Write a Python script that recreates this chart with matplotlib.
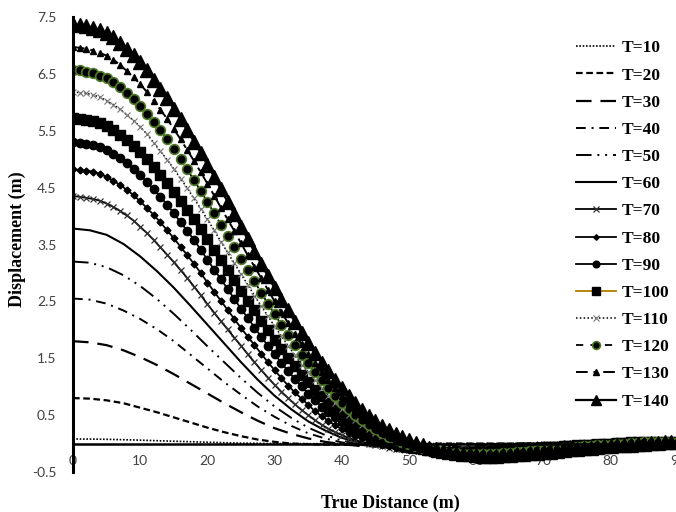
import numpy as np
import matplotlib
matplotlib.use("Agg")
import matplotlib.pyplot as plt

# distance (m): 2.5 m grid for the plain line series, 1 m grid for marker series
x_line = [i * 2.5 for i in range(37)]
x_mark = list(range(0, 91))

t10 = [0.08, 0.079, 0.075, 0.068, 0.06, 0.05, 0.041, 0.032, 0.023, 0.015,
       0.008, 0.004, 0.001, -0.001, -0.002, -0.002, -0.002, -0.001, -0.001,
       0, 0, 0, 0, 0, 0, 0, 0, 0, 0, 0, 0, 0, 0, 0, 0, 0, 0]
t20 = [0.80, 0.79, 0.76, 0.71, 0.63, 0.55, 0.46, 0.37, 0.28, 0.20,
       0.13, 0.07, 0.03, 0.00, -0.01, -0.02, -0.02, -0.02, -0.02, -0.02,
       -0.01, -0.01, 0, 0, 0, 0, 0, 0, 0, 0, 0, 0, 0, 0, 0, 0, 0]
t30 = [1.80, 1.78, 1.73, 1.64, 1.52, 1.38, 1.22, 1.05, 0.88, 0.71,
       0.55, 0.40, 0.27, 0.17, 0.09, 0.03, -0.01, -0.04, -0.05, -0.05,
       -0.05, -0.04, -0.03, -0.02, -0.01, -0.01, 0.00, 0.00, 0.01, 0.01,
       0.01, 0.01, 0.01, 0.01, 0.01, 0.01, 0.01]
t40 = [2.55, 2.53, 2.46, 2.34, 2.19, 2.01, 1.80, 1.56, 1.32, 1.08,
       0.86, 0.65, 0.47, 0.31, 0.18, 0.09, 0.02, -0.02, -0.05, -0.07,
       -0.07, -0.07, -0.06, -0.05, -0.03, -0.02, -0.01, 0.00, 0.01, 0.01,
       0.01, 0.01, 0.01, 0.01, 0.01, 0.01, 0.01]
t50 = [3.20, 3.18, 3.10, 2.96, 2.77, 2.54, 2.28, 2.00, 1.71, 1.43,
       1.15, 0.89, 0.65, 0.45, 0.28, 0.15, 0.05, -0.01, -0.05, -0.08,
       -0.09, -0.09, -0.08, -0.07, -0.05, -0.04, -0.02, -0.01, 0.00, 0.01,
       0.01, 0.01, 0.01, 0.01, 0.01, 0.01, 0.01]
t60 = [3.78, 3.75, 3.67, 3.51, 3.29, 3.03, 2.74, 2.42, 2.09, 1.76,
       1.43, 1.12, 0.84, 0.60, 0.39, 0.23, 0.10, 0.02, -0.04, -0.08,
       -0.10, -0.11, -0.10, -0.08, -0.06, -0.05, -0.03, -0.02, -0.01, 0.01,
       0.02, 0.02, 0.02, 0.02, 0.02, 0.02, 0.02]

t70 = [4.35, 4.34, 4.32, 4.30, 4.27, 4.22, 4.16, 4.09, 4.01, 3.92,
       3.81, 3.70, 3.58, 3.45, 3.32, 3.19, 3.05, 2.91, 2.76, 2.61,
       2.45, 2.30, 2.15, 2.01, 1.86, 1.72, 1.57, 1.43, 1.29, 1.16,
       1.03, 0.91, 0.80, 0.69, 0.59, 0.50, 0.41, 0.33, 0.26, 0.20,
       0.15, 0.10, 0.06, 0.03, 0.00, -0.03, -0.05, -0.07, -0.09, -0.10,
       -0.11, -0.12, -0.12, -0.12, -0.12, -0.12, -0.12, -0.11, -0.10, -0.10,
       -0.09, -0.08, -0.07, -0.06, -0.05, -0.05, -0.04, -0.04, -0.03, -0.02,
       -0.01, -0.01, 0.00, 0.00, 0.00, 0.01, 0.01, 0.01, 0.02, 0.02,
       0.02, 0.02, 0.02, 0.02, 0.02, 0.02, 0.02, 0.02, 0.02, 0.02,
       0.02]
t80 = [4.82, 4.81, 4.80, 4.78, 4.74, 4.69, 4.62, 4.55, 4.46, 4.37,
       4.26, 4.14, 4.02, 3.89, 3.75, 3.61, 3.46, 3.31, 3.16, 3.00,
       2.83, 2.67, 2.51, 2.35, 2.19, 2.03, 1.88, 1.73, 1.58, 1.43,
       1.29, 1.15, 1.02, 0.90, 0.79, 0.68, 0.57, 0.48, 0.40, 0.32,
       0.25, 0.19, 0.13, 0.09, 0.05, 0.01, -0.02, -0.05, -0.07, -0.09,
       -0.11, -0.12, -0.13, -0.13, -0.13, -0.13, -0.13, -0.13, -0.13, -0.12,
       -0.11, -0.11, -0.10, -0.09, -0.08, -0.07, -0.06, -0.05, -0.04, -0.03,
       -0.03, -0.02, -0.02, -0.01, 0.00, 0.00, 0.00, 0.01, 0.01, 0.01,
       0.02, 0.02, 0.02, 0.02, 0.02, 0.02, 0.02, 0.02, 0.02, 0.02,
       0.02]
t90 = [5.30, 5.29, 5.27, 5.25, 5.22, 5.17, 5.10, 5.02, 4.93, 4.83,
       4.72, 4.60, 4.47, 4.34, 4.20, 4.05, 3.89, 3.74, 3.58, 3.41,
       3.23, 3.06, 2.89, 2.72, 2.54, 2.37, 2.21, 2.04, 1.88, 1.72,
       1.57, 1.42, 1.27, 1.14, 1.01, 0.88, 0.76, 0.65, 0.56, 0.47,
       0.38, 0.30, 0.23, 0.17, 0.12, 0.07, 0.03, 0.00, -0.03, -0.06,
       -0.08, -0.10, -0.12, -0.13, -0.14, -0.15, -0.15, -0.15, -0.15, -0.15,
       -0.14, -0.13, -0.12, -0.12, -0.11, -0.10, -0.09, -0.08, -0.07, -0.06,
       -0.05, -0.05, -0.04, -0.03, -0.02, -0.02, -0.01, -0.01, 0.00, 0.01,
       0.01, 0.02, 0.02, 0.02, 0.02, 0.02, 0.02, 0.02, 0.02, 0.02,
       0.02]
t100 = [5.72, 5.71, 5.69, 5.67, 5.63, 5.58, 5.51, 5.43, 5.34, 5.24,
        5.13, 5.01, 4.87, 4.73, 4.59, 4.43, 4.27, 4.11, 3.94, 3.77,
        3.59, 3.41, 3.23, 3.05, 2.87, 2.69, 2.51, 2.34, 2.16, 1.99,
        1.82, 1.66, 1.51, 1.36, 1.21, 1.08, 0.95, 0.83, 0.71, 0.61,
        0.51, 0.42, 0.33, 0.26, 0.19, 0.14, 0.09, 0.05, 0.01, -0.03,
        -0.06, -0.08, -0.10, -0.12, -0.14, -0.15, -0.15, -0.16, -0.16, -0.16,
        -0.15, -0.15, -0.15, -0.14, -0.13, -0.12, -0.11, -0.10, -0.09, -0.08,
        -0.07, -0.07, -0.06, -0.05, -0.04, -0.03, -0.02, -0.02, -0.01, -0.01,
        0.00, 0.01, 0.01, 0.02, 0.02, 0.02, 0.02, 0.02, 0.02, 0.02,
        0.02]
t110 = [6.18, 6.17, 6.16, 6.13, 6.09, 6.03, 5.96, 5.88, 5.78, 5.68,
        5.57, 5.44, 5.29, 5.14, 4.99, 4.83, 4.66, 4.49, 4.31, 4.13,
        3.94, 3.75, 3.55, 3.36, 3.17, 2.98, 2.79, 2.60, 2.42, 2.24,
        2.06, 1.89, 1.72, 1.55, 1.39, 1.25, 1.11, 0.97, 0.83, 0.72,
        0.61, 0.51, 0.41, 0.32, 0.25, 0.19, 0.14, 0.09, 0.04, 0.00,
        -0.04, -0.07, -0.09, -0.12, -0.14, -0.15, -0.16, -0.17, -0.17, -0.17,
        -0.17, -0.17, -0.17, -0.16, -0.15, -0.14, -0.13, -0.12, -0.11, -0.10,
        -0.09, -0.08, -0.07, -0.06, -0.06, -0.05, -0.04, -0.03, -0.02, -0.01,
        -0.01, 0.00, 0.01, 0.02, 0.02, 0.02, 0.02, 0.02, 0.02, 0.02,
        0.02]
t120 = [6.57, 6.56, 6.54, 6.51, 6.47, 6.42, 6.35, 6.27, 6.16, 6.06,
        5.94, 5.80, 5.66, 5.51, 5.35, 5.18, 5.00, 4.82, 4.63, 4.44,
        4.25, 4.05, 3.85, 3.65, 3.45, 3.25, 3.05, 2.85, 2.65, 2.46,
        2.27, 2.09, 1.91, 1.73, 1.56, 1.41, 1.26, 1.11, 0.97, 0.84,
        0.72, 0.61, 0.51, 0.41, 0.32, 0.25, 0.18, 0.12, 0.07, 0.03,
        -0.01, -0.04, -0.07, -0.10, -0.12, -0.14, -0.16, -0.17, -0.18, -0.18,
        -0.18, -0.18, -0.18, -0.18, -0.17, -0.16, -0.15, -0.14, -0.13, -0.12,
        -0.11, -0.10, -0.09, -0.08, -0.07, -0.06, -0.05, -0.04, -0.03, -0.03,
        -0.02, -0.01, 0.00, 0.01, 0.01, 0.02, 0.02, 0.03, 0.03, 0.03,
        0.03]
t130 = [6.97, 6.96, 6.94, 6.91, 6.87, 6.82, 6.75, 6.66, 6.55, 6.44,
        6.32, 6.18, 6.03, 5.87, 5.71, 5.53, 5.35, 5.16, 4.97, 4.77,
        4.57, 4.36, 4.15, 3.94, 3.74, 3.52, 3.31, 3.11, 2.91, 2.70,
        2.50, 2.31, 2.12, 1.93, 1.75, 1.58, 1.42, 1.26, 1.12, 0.97,
        0.84, 0.72, 0.61, 0.50, 0.40, 0.31, 0.24, 0.17, 0.12, 0.07,
        0.02, -0.02, -0.06, -0.09, -0.11, -0.14, -0.16, -0.17, -0.18, -0.19,
        -0.19, -0.20, -0.20, -0.20, -0.19, -0.18, -0.17, -0.16, -0.15, -0.14,
        -0.13, -0.12, -0.10, -0.09, -0.08, -0.07, -0.06, -0.05, -0.04, -0.04,
        -0.03, -0.02, -0.01, -0.01, 0.00, 0.01, 0.01, 0.02, 0.03, 0.03,
        0.03]
t140 = [7.37, 7.36, 7.34, 7.31, 7.27, 7.21, 7.14, 7.05, 6.94, 6.83,
        6.71, 6.56, 6.40, 6.24, 6.07, 5.89, 5.70, 5.51, 5.31, 5.11,
        4.90, 4.69, 4.47, 4.25, 4.03, 3.81, 3.59, 3.37, 3.16, 2.94,
        2.73, 2.53, 2.34, 2.14, 1.95, 1.76, 1.59, 1.42, 1.27, 1.11,
        0.97, 0.83, 0.71, 0.59, 0.49, 0.39, 0.31, 0.23, 0.17, 0.11,
        0.06, 0.01, -0.03, -0.07, -0.10, -0.13, -0.15, -0.17, -0.18, -0.19,
        -0.20, -0.21, -0.21, -0.21, -0.20, -0.20, -0.19, -0.18, -0.17, -0.16,
        -0.15, -0.14, -0.13, -0.12, -0.10, -0.09, -0.08, -0.07, -0.06, -0.05,
        -0.04, -0.03, -0.02, -0.02, -0.01, 0.00, 0.01, 0.01, 0.02, 0.03,
        0.03]

y_ticks = [-0.5, 0.5, 1.5, 2.5, 3.5, 4.5, 5.5, 6.5, 7.5]
x_ticks = [0, 10, 20, 30, 40, 50, 60, 70, 80, 90]

fig = plt.figure(figsize=(6.76, 5.12), dpi=100)
ax = fig.add_axes([73 / 676, 40 / 512, 605 / 676, 455 / 512])

k = 'black'
green = '#4F7A28'
ax.plot(x_line, t10, color=k, lw=1.2, ls=(0, (1, 1)), label='T=10')
ax.plot(x_line, t20, color=k, lw=1.6, ls=(0, (3, 1.6)), label='T=20')
ax.plot(x_line, t30, color=k, lw=1.6, ls=(0, (7, 4)), label='T=30')
ax.plot(x_line, t40, color=k, lw=1.4, ls=(0, (5, 3, 1, 3)), label='T=40')
ax.plot(x_line, t50, color=k, lw=1.4, ls=(0, (8, 3, 1, 3, 1, 3)), label='T=50')
ax.plot(x_line, t60, color=k, lw=1.5, ls='-', label='T=60')
ax.plot(x_mark, t70, color=k, lw=1.3, marker='x', ms=5, mew=0.9, mec='#333333', label='T=70')
ax.plot(x_mark, t80, color=k, lw=1.3, marker='D', ms=3.5, label='T=80')
ax.plot(x_mark, t90, color=k, lw=1.3, marker='o', ms=6, label='T=90')
ax.plot(x_mark, t100, color='#B8860B', lw=1.4, marker='s', ms=7, mfc=k, mec=k, label='T=100')
ax.plot(x_mark, t110, color=k, lw=1.1, ls=(0, (1, 1.5)), marker='x', ms=5, mew=0.8,
        mec='#777777', label='T=110')
ax.plot(x_mark, t120, color=k, lw=1.3, ls=(0, (4, 4)), marker='o', ms=7, mfc=k,
        mec=green, mew=1.2, label='T=120')
ax.plot(x_mark, t130, color=k, lw=1.4, ls=(0, (6, 3, 2, 3)), marker='^', ms=5, label='T=130')
ax.plot(x_mark, t140, color=k, lw=1.6, marker='^', ms=9.5, label='T=140')

ax.set_xlim(0, 90)
ax.set_ylim(-0.5, 7.5)
ax.set_xticks(x_ticks)
ax.set_yticks(y_ticks)
ax.set_yticklabels([str(v) for v in y_ticks])

for s in ['top', 'right']:
    ax.spines[s].set_visible(False)
ax.spines['left'].set_linewidth(2.2)
ax.spines['bottom'].set_position(('data', 0))
ax.spines['bottom'].set_linewidth(1.8)
ax.tick_params(axis='both', length=0, labelsize=10, colors='#404040')
ax.tick_params(axis='x', pad=8)
ax.tick_params(axis='y', pad=12)
for lab in ax.get_xticklabels() + ax.get_yticklabels():
    lab.set_fontfamily('Lato')

fig.text(0.026, 0.533, 'Displacement (m)', rotation=90, ha='center', va='center',
         fontsize=13, fontweight='bold', family='Liberation Serif')
fig.text(0.577, 0.016, 'True Distance (m)', ha='center', va='center',
         fontsize=13, fontweight='bold', family='Liberation Serif')

leg = fig.legend(loc='upper right', bbox_to_anchor=(1.013, 0.952), frameon=False,
                 prop={'family': 'Liberation Serif', 'weight': 'bold', 'size': 12.5},
                 labelspacing=0.635, handlelength=2.3, handletextpad=0.3, markerscale=0.8)

fig.savefig('out.png', dpi=100)
